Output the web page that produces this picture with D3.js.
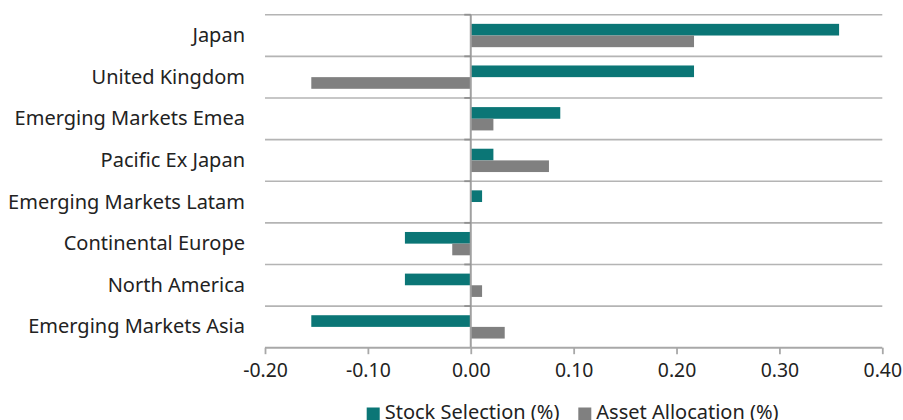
<!DOCTYPE html>
<html><head><meta charset="utf-8">
<script src="https://cdn.jsdelivr.net/npm/d3@7"></script>
<style>
html,body{margin:0;padding:0;background:#fff;}
svg{display:block;font-family:"Noto Sans",sans-serif;}
</style></head>
<body>
<svg id="chart" width="903" height="420"></svg>
<script>
const categories = ["Japan","United Kingdom","Emerging Markets Emea","Pacific Ex Japan","Emerging Markets Latam","Continental Europe","North America","Emerging Markets Asia"];
const stockSelection = [0.358, 0.217, 0.087, 0.022, 0.011, -0.064, -0.064, -0.155];
const assetAllocation = [0.217, -0.155, 0.022, 0.076, 0.0, -0.018, 0.011, 0.033];
const seriesNames = ["Stock Selection (%)","Asset Allocation (%)"];
const xTicks = [-0.2,-0.1,0,0.1,0.2,0.3,0.4];
const colors = ["#0b7676","#808080"];

const svg = d3.select("#chart");
const fs = 20;
const tfs = 19.4;
const x = d3.scaleLinear().domain([-0.2,0.4]).range([265,882.3]);
const y = d3.scaleBand().domain(categories).range([14.7,347.7]).padding(0);
const sub = d3.scaleBand().domain(seriesNames).range([0,y.bandwidth()]).paddingInner(0).paddingOuter(0.785);

// gridlines at band boundaries
const bounds = categories.map(c=>y(c));
svg.append("g").selectAll("line").data(bounds).join("line")
  .attr("x1",265).attr("x2",882.3).attr("y1",d=>d).attr("y2",d=>d)
  .attr("stroke","#b4b4b4").attr("stroke-width",1.6);

// bars
const data = categories.map((c,i)=>({c, vals:[stockSelection[i],assetAllocation[i]]}));
const g = svg.append("g");
data.forEach(d=>{
  d.vals.forEach((v,j)=>{
    g.append("rect")
      .attr("x",x(Math.min(0,v)))
      .attr("width",Math.abs(x(v)-x(0)))
      .attr("y",y(d.c)+sub(seriesNames[j]))
      .attr("height",sub.bandwidth())
      .attr("fill",colors[j]);
  });
});

// zero line (category axis)
svg.append("line").attr("x1",x(0)).attr("x2",x(0)).attr("y1",14.7).attr("y2",347.7)
  .attr("stroke","#a0a0a0").attr("stroke-width",2);
// category axis tick marks
svg.append("g").selectAll("line").data(bounds).join("line")
  .attr("x1",x(0)-6.5).attr("x2",x(0)).attr("y1",d=>d).attr("y2",d=>d)
  .attr("stroke","#909090").attr("stroke-width",1.8);

// category labels
svg.append("g").selectAll("text").data(categories).join("text")
  .attr("x",245).attr("y",d=>y(d)+y.bandwidth()/2).attr("dy","0.33em")
  .attr("text-anchor","end").attr("font-size",fs).attr("fill","#222").text(d=>d);

// x axis
const xAxis = d3.axisBottom(x).tickValues(xTicks).tickFormat(d3.format(".2f")).tickSize(6.5).tickPadding(9);
const ax = svg.append("g").attr("transform","translate(0,347.7)").call(xAxis);
ax.select(".domain").attr("stroke","#a8a8a8").attr("stroke-width",2).attr("d","M265,0H882.3");
ax.selectAll(".tick line").attr("stroke","#a8a8a8").attr("stroke-width",1.8);
ax.selectAll(".tick text").attr("font-size",tfs).attr("font-family","Noto Sans").attr("fill","#222")
  .text(d=>d3.format(".2f")(d).replace("−","-"));

// legend
const leg = svg.append("g");
const legX = [366.7, 578.3];
seriesNames.forEach((s,i)=>{
  leg.append("rect").attr("x",legX[i]).attr("y",407.5).attr("width",13).attr("height",13).attr("fill",colors[i]);
  leg.append("text").attr("x",legX[i]+18).attr("y",419).attr("font-size",fs).attr("fill","#222").text(s);
});
</script>
</body></html>
